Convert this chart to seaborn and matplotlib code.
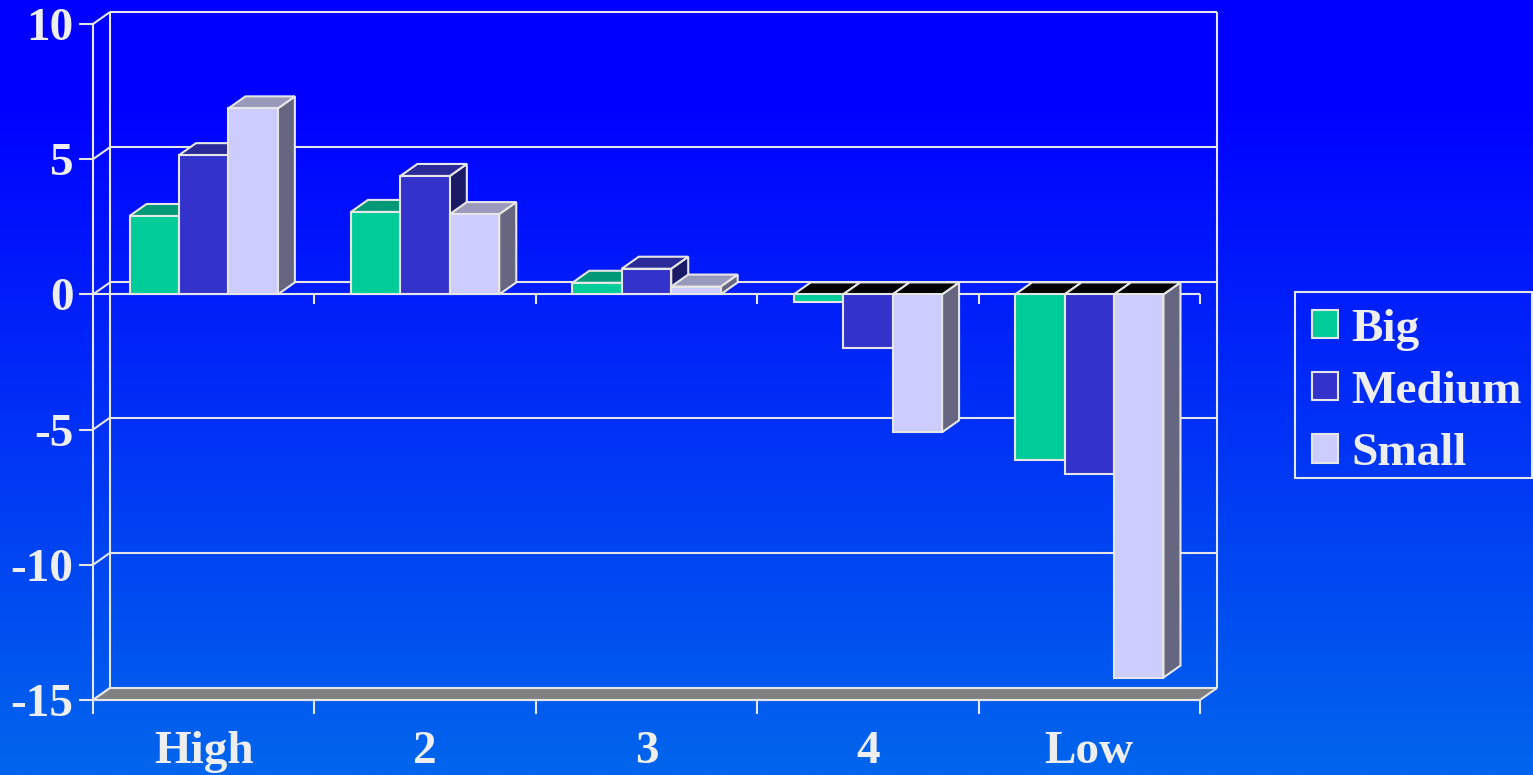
import numpy as np
import pandas as pd
import matplotlib
matplotlib.use("Agg")
import matplotlib.pyplot as plt
import matplotlib.colors as mcolors
from matplotlib.patches import Polygon, Patch, Rectangle
import seaborn as sns

# ---- data ----
categories = ["High", "2", "3", "4", "Low"]
series = ["Big", "Medium", "Small"]
big = [2.9, 3.05, 0.43, -0.28, -6.12]
medium = [5.15, 4.38, 0.95, -2.0, -6.63]
small = [6.88, 2.97, 0.29, -5.1, -14.17]
y_ticks = [-15, -10, -5, 0, 5, 10]

# ---- styling ----
front_colors = ["#00CC99", "#3333CC", "#CCCCFF"]
top_colors = ["#009977", "#2A2A99", "#9999BB"]
side_colors = ["#00664D", "#1A1A66", "#666680"]
line_c = "#E6E6E6"
text_c = "#EEEEEE"
fs = 34

sns.set_theme(style="white")
plt.rcParams["font.family"] = ["Liberation Serif", "DejaVu Serif"]
plt.rcParams["font.weight"] = "bold"

W, H = 1533, 775
fig = plt.figure(figsize=(W / 100, H / 100), dpi=100)

# vertical blue gradient background (solid blue at the top, lighter towards the bottom)
bg = fig.add_axes([0, 0, 1, 1], zorder=-10)
t = np.linspace(0, 1, 400)[:, None]
t = np.clip((t - 0.13) / 0.87, 0, 1)
top_rgb = np.array([0, 0, 255]) / 255
bot_rgb = np.array([0, 102, 236]) / 255
grad = top_rgb[None, None, :] * (1 - t[..., None]) + bot_rgb[None, None, :] * t[..., None]
grad = np.repeat(grad, 2, axis=1)
bg.imshow(grad, aspect="auto", extent=[0, 1, 0, 1], origin="upper")
bg.set_xlim(0, 1)
bg.set_ylim(0, 1)
bg.axis("off")

# front plane of the chart
x0p, x1p, ytop, ybot = 93, 1200, 24, 700
ax = fig.add_axes([x0p / W, 1 - ybot / H, (x1p - x0p) / W, (ybot - ytop) / H])
ax.patch.set_alpha(0)

df = pd.DataFrame({
    "category": categories * 3,
    "series": np.repeat(series, len(categories)),
    "value": big + medium + small,
})

sns.barplot(data=df, x="category", y="value", hue="series", order=categories,
            hue_order=series, palette=front_colors, saturation=1, width=0.67,
            gap=0, edgecolor=line_c, linewidth=1.5, errorbar=None,
            legend=False, ax=ax)
bars = sorted([p for p in ax.patches if isinstance(p, Rectangle)],
              key=lambda p: p.get_x())

ax.set_xlim(-0.5, len(categories) - 0.5)
ax.set_ylim(y_ticks[0], y_ticks[-1])

# depth offset of the 3-D projection, in data units
px_x = (x1p - x0p) / len(categories)
px_y = (ybot - ytop) / (y_ticks[-1] - y_ticks[0])
dx, dy = 17 / px_x, 12 / px_y
xl, xr = -0.5, len(categories) - 0.5

lk = dict(color=line_c, lw=1.5, clip_on=False, solid_capstyle="butt")

# back wall, gridlines and left wall
for y in y_ticks[1:]:
    ax.plot([xl + dx, xr + dx], [y + dy, y + dy], zorder=1, **lk)
for y in y_ticks:
    ax.plot([xl, xl + dx], [y, y + dy], zorder=1, **lk)
ax.plot([xl + dx, xl + dx], [y_ticks[0] + dy, y_ticks[-1] + dy], zorder=1, **lk)
ax.plot([xr + dx, xr + dx], [y_ticks[0] + dy, y_ticks[-1] + dy], zorder=1, **lk)

# floor slab
floor = Polygon([(xl, y_ticks[0]), (xr, y_ticks[0]), (xr + dx, y_ticks[0] + dy),
                 (xl + dx, y_ticks[0] + dy)], closed=True, facecolor="#808080",
                edgecolor=line_c, lw=1.5, clip_on=False, zorder=2)
ax.add_patch(floor)

# front zero line with category ticks
ax.plot([xl, xr], [0, 0], zorder=2.5, **lk)
tick_len = 10 / px_y
for b in np.arange(xl + 1, xr + 0.01, 1.0):
    ax.plot([b, b], [0, -tick_len], zorder=2.5, **lk)

# 3-D faces of every bar (side, top), stacked left to right
rgb_front = [np.array(mcolors.to_rgb(c)) for c in front_colors]
for k, p in enumerate(bars):
    fc = np.array(mcolors.to_rgb(p.get_facecolor()))
    si = int(np.argmin([np.sum((fc - c) ** 2) for c in rgb_front]))
    bx, bw = p.get_x(), p.get_width()
    y0, h = p.get_y(), p.get_height()
    top, bot = max(y0, y0 + h), min(y0, y0 + h)
    base = 3 + 3 * k
    side = Polygon([(bx + bw, bot), (bx + bw, top), (bx + bw + dx, top + dy),
                    (bx + bw + dx, bot + dy)], closed=True, facecolor=side_colors[si],
                   edgecolor=line_c, lw=1.5, clip_on=False, zorder=base)
    tcol = top_colors[si] if top > 0 else "#000000"
    topf = Polygon([(bx, top), (bx + bw, top), (bx + bw + dx, top + dy),
                    (bx + dx, top + dy)], closed=True, facecolor=tcol,
                   edgecolor=line_c, lw=1.5, clip_on=False, zorder=base + 1)
    ax.add_patch(side)
    ax.add_patch(topf)
    p.set_zorder(base + 2)
    p.set_clip_on(False)

# axes, ticks and labels
for s in ["top", "right"]:
    ax.spines[s].set_visible(False)
for s in ["left", "bottom"]:
    ax.spines[s].set_color(line_c)
    ax.spines[s].set_linewidth(1.5)
    ax.spines[s].set_zorder(2.6)
ax.set_yticks(y_ticks)
ax.set_yticklabels([str(v) for v in y_ticks])
ax.set_xticks(range(len(categories)))
ax.set_xticklabels(categories)
ax.set_xticks(np.arange(xl, xr + 0.01, 1.0), minor=True)
ax.tick_params(axis="y", which="major", length=10, width=1.5, color=line_c,
               labelcolor=text_c, labelsize=fs, pad=4, left=True)
ax.tick_params(axis="x", which="major", length=0, labelcolor=text_c,
               labelsize=fs, pad=22)
ax.tick_params(axis="x", which="minor", length=10, width=1.5, color=line_c,
               bottom=True)
ax.set_xlabel("")
ax.set_ylabel("")
ax.grid(False)

# legend entries and its outline box
handles = [Patch(facecolor=c, edgecolor=line_c, linewidth=1.5) for c in front_colors]
leg = fig.legend(handles, series, loc="upper left",
                 bbox_to_anchor=(1295 / W, 1 - 292 / H), bbox_transform=fig.transFigure,
                 frameon=False, fontsize=fs, labelcolor=text_c, handlelength=0.55,
                 handleheight=0.55, handletextpad=0.3, borderpad=0.35,
                 labelspacing=0.43, borderaxespad=0)
fig.patches.append(Rectangle((1295 / W, 1 - 478 / H), (1532 - 1295) / W, (478 - 292) / H,
                             transform=fig.transFigure, fill=False, edgecolor=line_c,
                             linewidth=1.5))

fig.savefig("out.png", dpi=100)
